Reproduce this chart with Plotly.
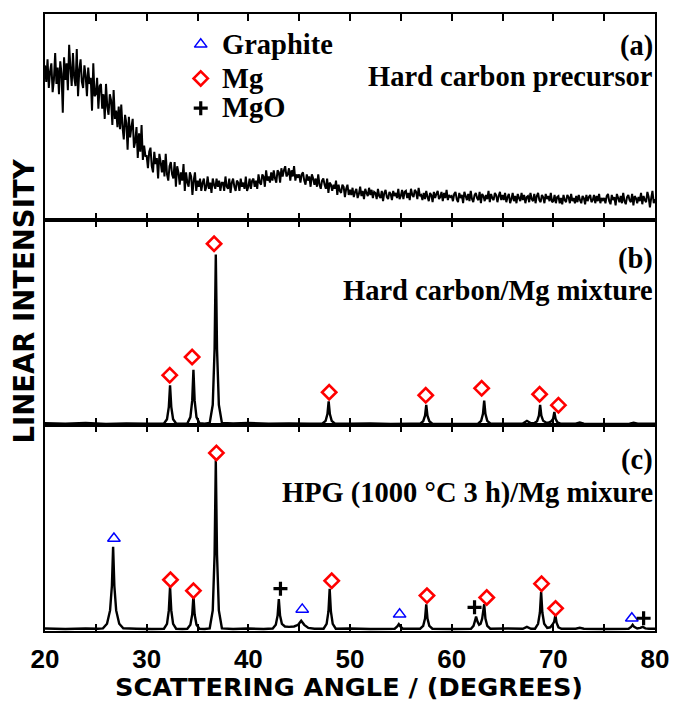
import plotly.graph_objects as go
from plotly.subplots import make_subplots

# ---------------- data ----------------
# Panel (a): hard carbon precursor, sampled every 0.125 deg from 20 to 80 (one row = 5 deg)
a_start, a_step = 20.0, 0.125
a_intensity = [
    # 20 - 24.875
    0.75, 0.67, 0.78, 0.64, 0.72, 0.76, 0.62, 0.68, 0.81, 0.66, 0.74, 0.61, 0.77, 0.71, 0.52, 0.79, 0.68, 0.76, 0.63, 0.85,
    0.74, 0.65, 0.81, 0.69, 0.65, 0.83, 0.60, 0.73, 0.78, 0.67, 0.64, 0.75, 0.70, 0.60, 0.74, 0.66, 0.69, 0.53, 0.76, 0.60,
    # 25 - 29.875
    0.61, 0.69, 0.54, 0.65, 0.66, 0.54, 0.61, 0.49, 0.66, 0.55, 0.51, 0.61, 0.58, 0.46, 0.63, 0.49, 0.53, 0.45, 0.55, 0.44,
    0.56, 0.45, 0.39, 0.51, 0.47, 0.34, 0.50, 0.40, 0.45, 0.49, 0.35, 0.38, 0.45, 0.30, 0.42, 0.33, 0.46, 0.29, 0.36, 0.31,
    # 30 - 34.875
    0.31, 0.25, 0.33, 0.35, 0.26, 0.23, 0.33, 0.27, 0.30, 0.20, 0.32, 0.28, 0.23, 0.29, 0.21, 0.32, 0.22, 0.19, 0.26, 0.28,
    0.22, 0.20, 0.28, 0.16, 0.26, 0.23, 0.17, 0.23, 0.19, 0.27, 0.14, 0.23, 0.18, 0.16, 0.23, 0.21, 0.12, 0.19, 0.23, 0.14,
    # 35 - 39.875
    0.19, 0.16, 0.20, 0.14, 0.18, 0.20, 0.14, 0.16, 0.21, 0.15, 0.18, 0.13, 0.20, 0.17, 0.15, 0.20, 0.16, 0.19, 0.14, 0.18,
    0.18, 0.14, 0.21, 0.16, 0.15, 0.20, 0.13, 0.18, 0.20, 0.16, 0.14, 0.19, 0.18, 0.14, 0.20, 0.16, 0.18, 0.15, 0.21, 0.14,
    # 40 - 44.875
    0.16, 0.20, 0.15, 0.19, 0.20, 0.16, 0.19, 0.15, 0.22, 0.18, 0.17, 0.22, 0.21, 0.16, 0.24, 0.19, 0.21, 0.18, 0.23, 0.19,
    0.24, 0.20, 0.18, 0.24, 0.23, 0.18, 0.25, 0.21, 0.24, 0.26, 0.21, 0.22, 0.25, 0.19, 0.24, 0.21, 0.26, 0.19, 0.22, 0.21,
    # 45 - 49.875
    0.22, 0.18, 0.22, 0.23, 0.19, 0.17, 0.22, 0.19, 0.21, 0.16, 0.22, 0.20, 0.17, 0.20, 0.16, 0.22, 0.17, 0.15, 0.19, 0.20,
    0.17, 0.15, 0.20, 0.13, 0.18, 0.17, 0.14, 0.17, 0.15, 0.19, 0.12, 0.17, 0.14, 0.13, 0.17, 0.16, 0.11, 0.15, 0.17, 0.12,
    # 50 - 54.875
    0.145, 0.12, 0.155, 0.11, 0.135, 0.15, 0.105, 0.125, 0.16, 0.115, 0.14, 0.10, 0.15, 0.13, 0.115, 0.155, 0.12, 0.145, 0.105, 0.135,
    0.13, 0.10, 0.15, 0.115, 0.105, 0.14, 0.09, 0.13, 0.145, 0.11, 0.10, 0.135, 0.125, 0.095, 0.14, 0.115, 0.13, 0.105, 0.15, 0.10,
    # 55 - 59.875
    0.115, 0.145, 0.10, 0.135, 0.14, 0.105, 0.13, 0.095, 0.15, 0.12, 0.11, 0.145, 0.135, 0.10, 0.155, 0.115,
    0.12, 0.095, 0.13, 0.10, 0.14, 0.11, 0.09, 0.13, 0.12, 0.085, 0.135, 0.105, 0.125, 0.14, 0.10, 0.11, 0.135, 0.09, 0.13, 0.105, 0.145, 0.095, 0.12, 0.11,
    # 60 - 64.875
    0.115, 0.09, 0.125, 0.135, 0.10, 0.085, 0.13, 0.105, 0.12, 0.08, 0.135, 0.115, 0.095, 0.125, 0.09, 0.14, 0.10, 0.085, 0.12, 0.13,
    0.105, 0.095, 0.135, 0.08, 0.125, 0.115, 0.09, 0.12, 0.10, 0.14, 0.085, 0.125, 0.105, 0.095, 0.13, 0.12, 0.085, 0.115, 0.135, 0.095,
    # 65 - 69.875
    0.12, 0.095, 0.13, 0.085, 0.11, 0.125, 0.08, 0.10, 0.13, 0.09, 0.115, 0.08, 0.125, 0.105, 0.09, 0.13, 0.095, 0.12, 0.08, 0.11,
    0.115, 0.085, 0.13, 0.10, 0.09, 0.125, 0.08, 0.115, 0.13, 0.095, 0.085, 0.12, 0.11, 0.08, 0.125, 0.10, 0.115, 0.09, 0.13, 0.085,
    # 70 - 74.875
    0.09, 0.12, 0.08, 0.11, 0.115, 0.08, 0.105, 0.075, 0.12, 0.095, 0.085, 0.12, 0.11, 0.08, 0.125, 0.09, 0.105, 0.08, 0.115, 0.085,
    0.12, 0.095, 0.08, 0.115, 0.105, 0.075, 0.12, 0.09, 0.11, 0.12, 0.085, 0.095, 0.12, 0.08, 0.115, 0.09, 0.125, 0.08, 0.105, 0.095,
    # 75 - 79.875
    0.105, 0.08, 0.115, 0.125, 0.09, 0.075, 0.12, 0.095, 0.11, 0.07, 0.125, 0.105, 0.085, 0.115, 0.08, 0.13, 0.09, 0.075, 0.11, 0.12,
    0.095, 0.085, 0.125, 0.07, 0.115, 0.105, 0.08, 0.11, 0.09, 0.13, 0.075, 0.115, 0.095, 0.085, 0.135, 0.11, 0.06, 0.105, 0.14, 0.08,
    # 80
    0.10,
]
a_angle = [a_start + a_step * i for i in range(len(a_intensity))]

# Panel (b): hard carbon / Mg mixture  (angle, intensity)
b_points = [
    (20, 0.010), (22, 0.008), (24, 0.011), (26, 0.007), (28, 0.009), (30, 0.008),
    (31.7, 0.009), (32.0, 0.030), (32.18, 0.090), (32.3, 0.195), (32.42, 0.090), (32.6, 0.030), (32.9, 0.009),
    (33.5, 0.008),
    (34.0, 0.009), (34.3, 0.040), (34.48, 0.120), (34.6, 0.270), (34.72, 0.120), (34.9, 0.040), (35.2, 0.010),
    (35.7, 0.008),
    (36.2, 0.012), (36.5, 0.100), (36.68, 0.370), (36.8, 0.830), (36.92, 0.370), (37.1, 0.100), (37.4, 0.012),
    (38.5, 0.009), (40.0, 0.011), (42.0, 0.008), (44.0, 0.009), (46.0, 0.008),
    (47.3, 0.009), (47.6, 0.022), (47.78, 0.055), (47.9, 0.117), (48.02, 0.055), (48.2, 0.022), (48.5, 0.009),
    (50.0, 0.008), (52.0, 0.009), (54.0, 0.007), (56.0, 0.008),
    (56.9, 0.008), (57.2, 0.020), (57.38, 0.047), (57.5, 0.100), (57.62, 0.047), (57.8, 0.020), (58.1, 0.008),
    (60.0, 0.007),
    (62.6, 0.008), (62.9, 0.022), (63.08, 0.056), (63.2, 0.120), (63.32, 0.056), (63.5, 0.022), (63.8, 0.009),
    (65.5, 0.008),
    (67.0, 0.009), (67.4, 0.022), (67.8, 0.010),
    (68.1, 0.010), (68.4, 0.020), (68.58, 0.047), (68.7, 0.100), (68.82, 0.047), (69.0, 0.022), (69.3, 0.013),
    (69.55, 0.013), (69.8, 0.020), (69.98, 0.032), (70.1, 0.065), (70.22, 0.032), (70.4, 0.015), (70.7, 0.008),
    (72.2, 0.008), (72.6, 0.014), (73.0, 0.008), (75.0, 0.007),
    (77.5, 0.008), (77.9, 0.013), (78.3, 0.008), (80.0, 0.008),
]

# Panel (c): HPG (1000 C 3 h) / Mg mixture  (angle, intensity)
c_points = [
    (20, 0.012), (22, 0.010), (24, 0.012), (25.2, 0.011),
    (25.7, 0.013), (26.1, 0.035), (26.4, 0.10), (26.58, 0.22), (26.7, 0.41), (26.82, 0.22), (27.0, 0.10),
    (27.3, 0.035), (27.7, 0.013),
    (29.0, 0.011), (30.5, 0.010),
    (31.7, 0.011), (32.0, 0.035), (32.18, 0.10), (32.3, 0.215), (32.42, 0.10), (32.6, 0.035), (32.9, 0.011),
    (33.5, 0.010),
    (34.0, 0.011), (34.3, 0.03), (34.48, 0.08), (34.6, 0.17), (34.72, 0.08), (34.9, 0.03), (35.2, 0.011),
    (35.7, 0.010),
    (36.2, 0.013), (36.5, 0.10), (36.68, 0.37), (36.8, 0.83), (36.92, 0.37), (37.1, 0.10), (37.4, 0.013),
    (38.5, 0.010), (40.0, 0.012), (41.5, 0.010),
    (42.4, 0.012), (42.7, 0.03), (42.88, 0.075), (43.0, 0.155), (43.12, 0.075), (43.3, 0.035), (43.6, 0.022),
    (44.0, 0.02), (44.5, 0.022), (44.9, 0.03), (45.2, 0.05), (45.5, 0.03), (45.9, 0.015), (46.5, 0.011),
    (47.4, 0.011), (47.7, 0.035), (47.88, 0.095), (48.0, 0.205), (48.12, 0.095), (48.3, 0.035), (48.6, 0.011),
    (50.0, 0.012), (52.0, 0.010),
    (54.4, 0.011), (54.65, 0.022), (54.8, 0.033), (54.95, 0.022), (55.2, 0.011),
    (56.9, 0.011), (57.2, 0.025), (57.38, 0.06), (57.5, 0.13), (57.62, 0.06), (57.8, 0.025), (58.1, 0.011),
    (60.0, 0.010),
    (61.9, 0.011), (62.15, 0.025), (62.3, 0.05), (62.4, 0.07), (62.55, 0.045), (62.7, 0.03), (62.85, 0.035),
    (63.0, 0.06), (63.2, 0.13), (63.32, 0.06), (63.5, 0.025), (63.8, 0.011),
    (65.5, 0.012),
    (67.0, 0.011), (67.4, 0.02), (67.8, 0.011),
    (68.2, 0.011), (68.5, 0.035), (68.68, 0.09), (68.8, 0.19), (68.92, 0.09), (69.1, 0.035), (69.4, 0.015),
    (69.7, 0.018), (69.9, 0.03), (70.08, 0.045), (70.2, 0.077), (70.32, 0.04), (70.5, 0.018), (70.8, 0.011),
    (72.2, 0.011), (72.6, 0.016), (73.0, 0.011), (75.0, 0.010),
    (77.4, 0.011), (77.65, 0.02), (77.8, 0.03), (77.95, 0.02), (78.25, 0.012), (78.55, 0.015), (78.8, 0.02),
    (79.05, 0.013), (79.4, 0.011), (80.0, 0.011),
]

# Phase markers (angle, marker height)
b_mg_x = [32.27, 34.47, 36.63, 47.95, 57.45, 62.95, 68.65, 70.5]
b_mg_y = [0.244, 0.332, 0.883, 0.161, 0.146, 0.180, 0.151, 0.098]

c_graphite_x = [26.78, 45.3, 54.88, 77.72]
c_graphite_y = [0.450, 0.105, 0.081, 0.062]
c_mg_x = [32.34, 34.6, 36.86, 48.2, 57.57, 63.45, 68.84, 70.22]
c_mg_y = [0.249, 0.196, 0.866, 0.244, 0.172, 0.163, 0.230, 0.110]
c_mgo_x = [43.16, 62.25, 78.88]
c_mgo_y = [0.206, 0.115, 0.062]

legend_names = ["Graphite", "Mg", "MgO"]

x_tick_vals = [20, 25, 30, 35, 40, 45, 50, 55, 60, 65, 70, 75, 80]
x_tick_text = ["20", "", "30", "", "40", "", "50", "", "60", "", "70", "", "80"]

panel_labels = ["(a)", "(b)", "(c)"]
panel_titles = ["Hard carbon precursor", "Hard carbon/Mg mixture", "HPG (1000 °C 3 h)/Mg mixure"]

# ---------------- figure ----------------
fig = make_subplots(rows=3, cols=1, shared_xaxes=True, vertical_spacing=0)

fig.add_trace(go.Scatter(x=a_angle, y=a_intensity, mode="lines",
                         line=dict(color="black", width=2.0, simplify=False), showlegend=False), row=1, col=1)
bx, by = zip(*b_points)
fig.add_trace(go.Scatter(x=list(bx), y=list(by), mode="lines",
                         line=dict(color="black", width=2.4, simplify=False), showlegend=False), row=2, col=1)
cx, cy = zip(*c_points)
fig.add_trace(go.Scatter(x=list(cx), y=list(cy), mode="lines",
                         line=dict(color="black", width=2.4, simplify=False), showlegend=False), row=3, col=1)

graphite_marker = dict(symbol="triangle-up-open", size=11, color="#0000ff", line=dict(width=1.5, color="#0000ff"))
mg_marker = dict(symbol="diamond-open", size=11, color="#ff0000", line=dict(width=2.6, color="#ff0000"))
mgo_marker = dict(symbol="cross-thin-open", size=10, color="black", line=dict(width=3.2, color="black"))

fig.add_trace(go.Scatter(x=c_graphite_x, y=c_graphite_y, mode="markers", marker=graphite_marker,
                         name="Graphite", showlegend=False), row=3, col=1)
fig.add_trace(go.Scatter(x=b_mg_x, y=b_mg_y, mode="markers", marker=mg_marker,
                         name="Mg", showlegend=False), row=2, col=1)
fig.add_trace(go.Scatter(x=c_mg_x, y=c_mg_y, mode="markers", marker=mg_marker,
                         name="Mg", showlegend=False), row=3, col=1)
fig.add_trace(go.Scatter(x=c_mgo_x, y=c_mgo_y, mode="markers", marker=mgo_marker,
                         name="MgO", showlegend=False), row=3, col=1)

for i in range(1, 4):
    fig.update_xaxes(
        range=[20, 80], showline=True, linewidth=2, linecolor="black", mirror="allticks",
        ticks="inside", ticklen=7, tickwidth=2, tickcolor="black",
        tickmode="array", tickvals=x_tick_vals, ticktext=x_tick_text,
        showticklabels=(i == 3), showgrid=False, zeroline=False,
        tickfont=dict(family="Liberation Sans", size=26, color="black", weight="bold"),
        ticklabelstandoff=4,
        row=i, col=1,
    )
    fig.update_yaxes(
        range=[0, 1], showline=True, linewidth=2, linecolor="black", mirror=True,
        ticks="", showticklabels=False, showgrid=False, zeroline=False,
        row=i, col=1,
    )

serif = dict(family="Liberation Serif", size=28.5, color="black", weight="bold")

# key (legend) inside panel (a)
key_x_sym = 0.2553      # paper x of symbols
key_x_txt = 0.2876      # paper x where key text starts
key_rows_y = [0.951, 0.896, 0.848]
key_markers = [graphite_marker, mg_marker, mgo_marker]
for name, yy in zip(legend_names, key_rows_y):
    fig.add_annotation(text=name, xref="paper", yref="paper", x=key_x_txt, y=yy,
                       xanchor="left", yanchor="middle", showarrow=False, font=serif)
key_sym_deg = 20 + (60 * key_x_sym)
key_sym_y = [(yy * 618.3 - (631 - 218)) / 205.3 for yy in key_rows_y]
for name, mk, yy in zip(legend_names, key_markers, key_sym_y):
    fig.add_trace(go.Scatter(x=[key_sym_deg], y=[yy], mode="markers", marker=mk,
                             name=name, showlegend=False, hoverinfo="skip"), row=1, col=1)

label_y = [(0.948, 0.899), (0.603, 0.552), (0.277, 0.223)]
for lab, title, (y1, y2) in zip(panel_labels, panel_titles, label_y):
    fig.add_annotation(text=lab, xref="paper", yref="paper", x=1.0, y=y1,
                       xanchor="right", yanchor="middle", showarrow=False, font=serif)
    fig.add_annotation(text=title, xref="paper", yref="paper", x=1.0, y=y2,
                       xanchor="right", yanchor="middle", showarrow=False, font=serif)

fig.add_annotation(text="LINEAR INTENSITY", xref="paper", yref="paper", x=-0.035, y=0.535,
                   xanchor="center", yanchor="middle", textangle=-90, showarrow=False,
                   font=dict(family="DejaVu Sans", size=27.5, color="black", weight="bold"))
fig.add_annotation(text="SCATTERING ANGLE / (DEGREES)", xref="paper", yref="paper", x=0.4976, y=-0.09,
                   xanchor="center", yanchor="middle", showarrow=False,
                   font=dict(family="DejaVu Sans", size=25.6, color="black", weight="bold"))

fig.update_layout(
    width=681, height=702,
    margin=dict(l=45, r=17, t=13, b=71),
    paper_bgcolor="white", plot_bgcolor="white",
    showlegend=False,
)

fig.write_html("out.html")
